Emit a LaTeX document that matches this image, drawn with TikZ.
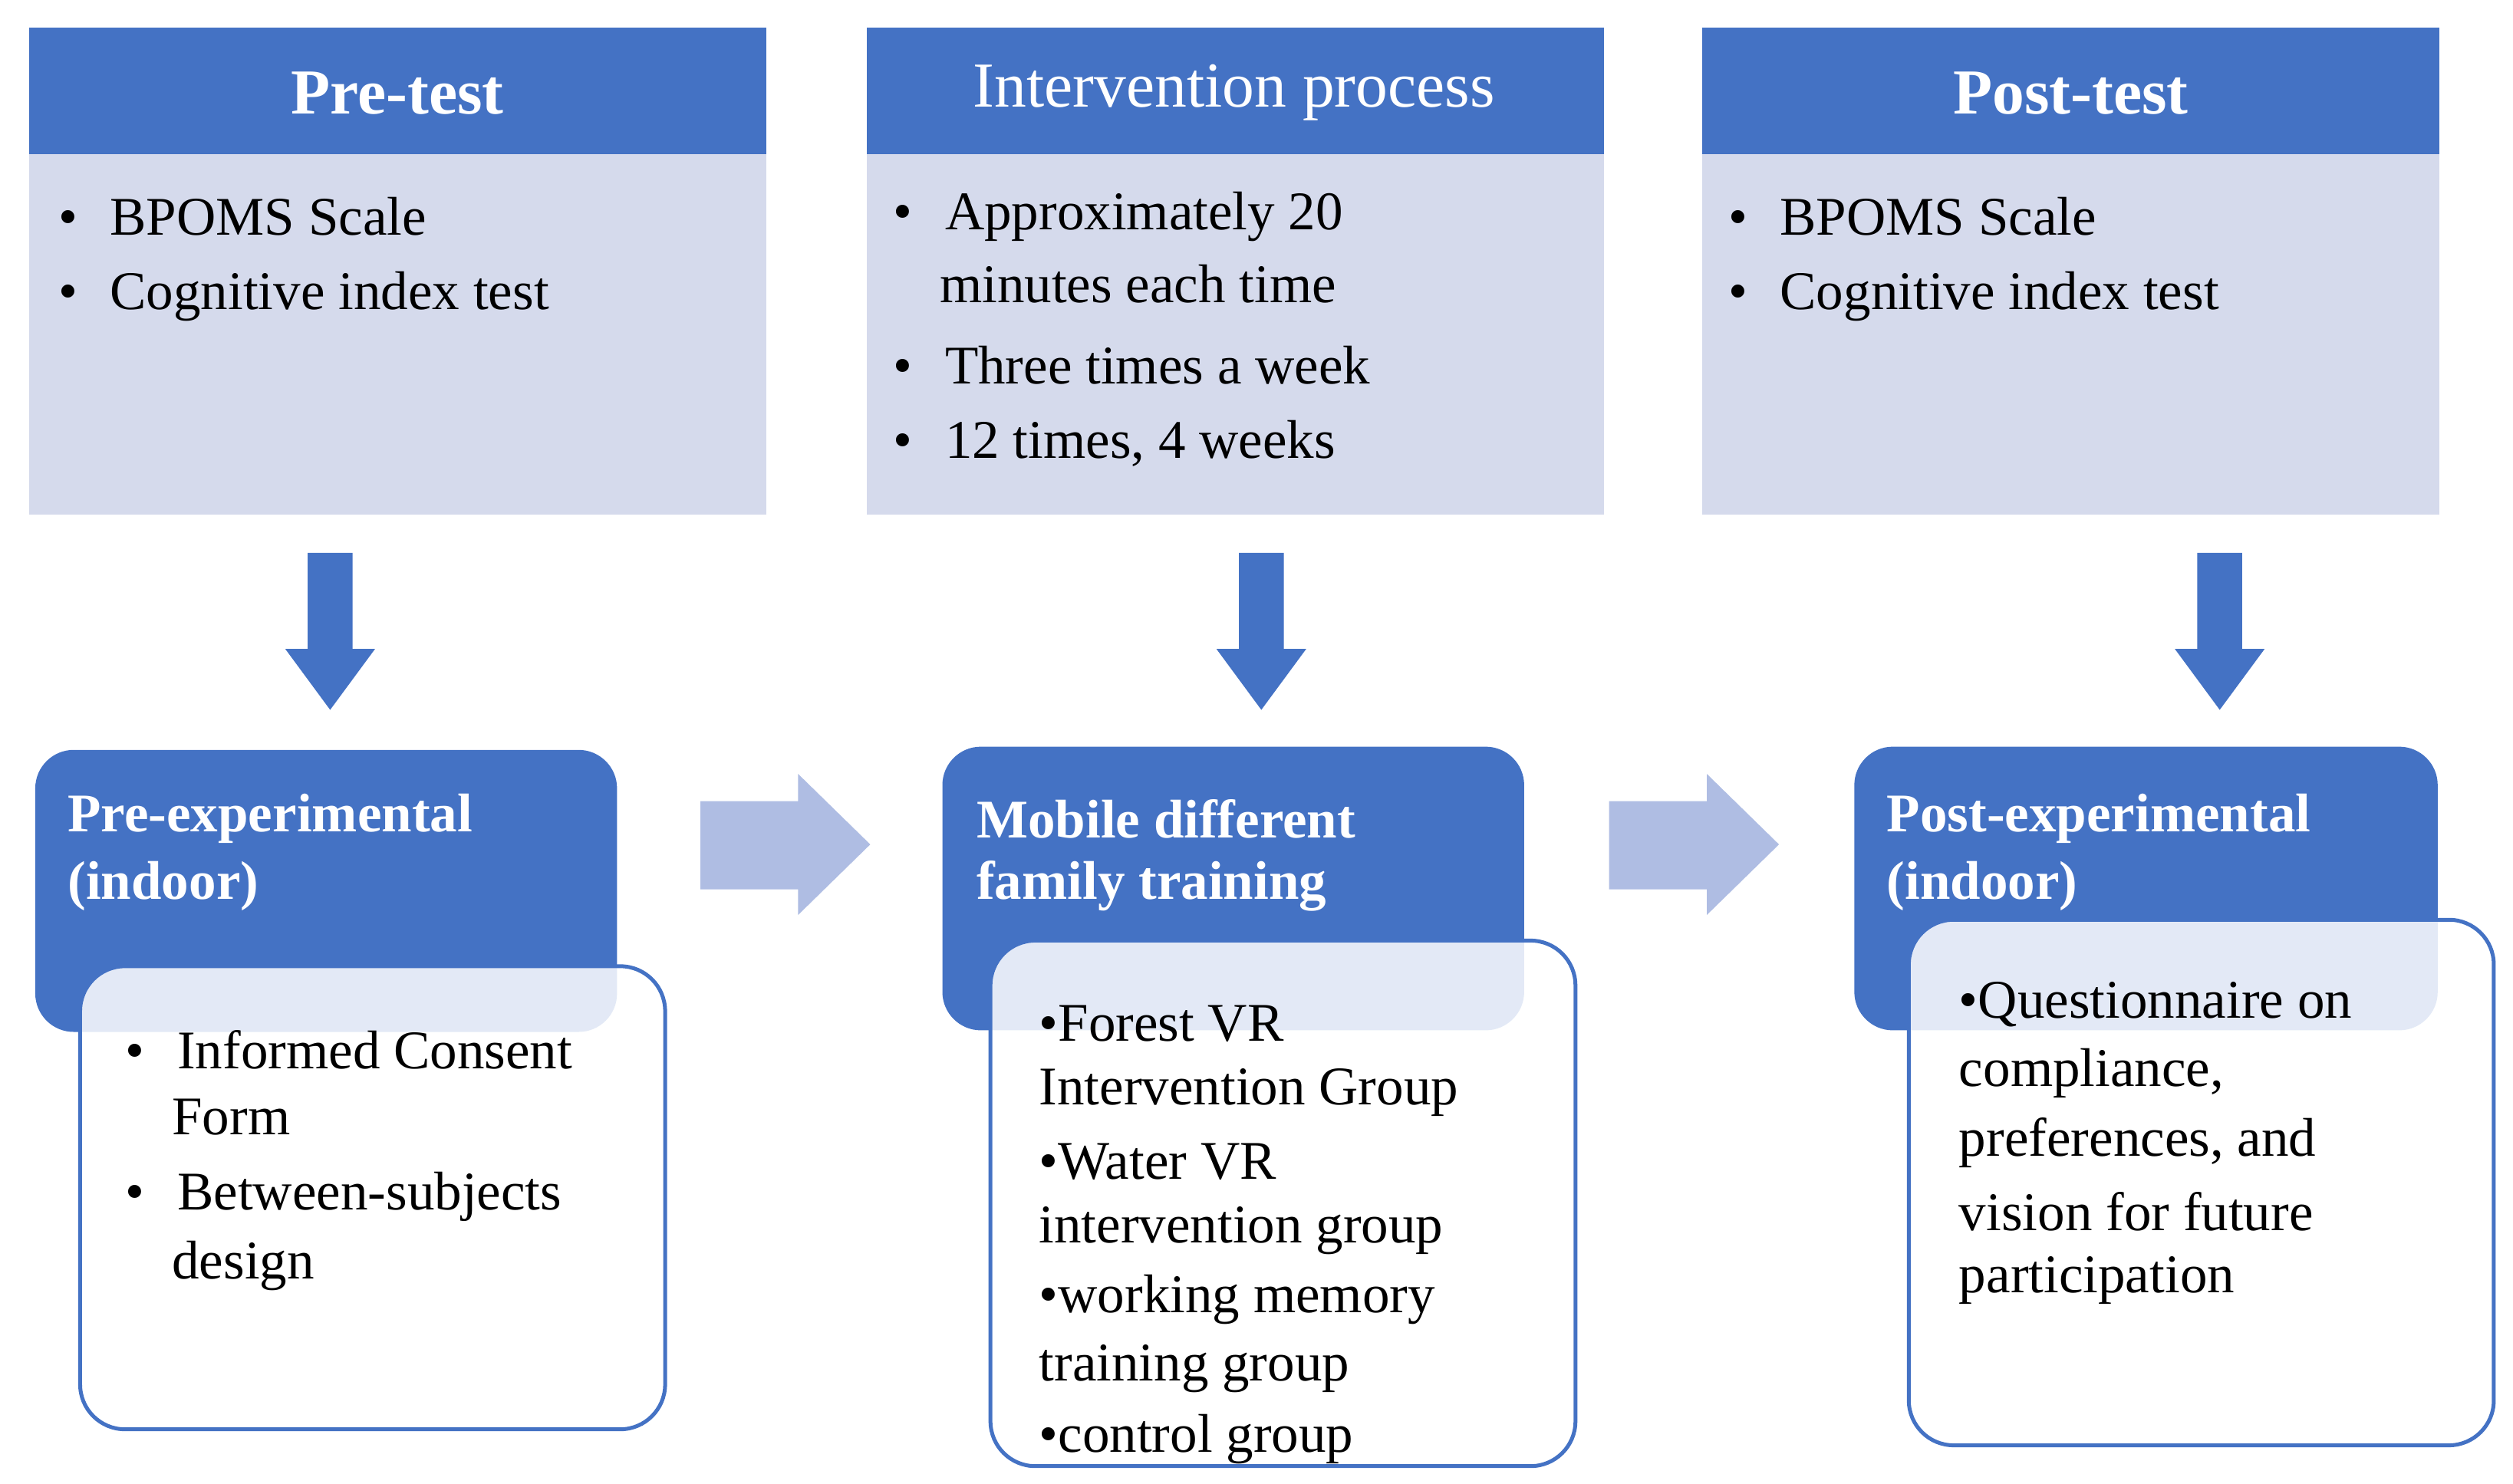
\documentclass[tikz,border=0pt]{standalone}
\usepackage{fontspec}
\setmainfont{Liberation Serif}
\definecolor{dblue}{HTML}{4472C4}
\definecolor{lblue}{HTML}{D5DAEC}
\definecolor{ablue}{HTML}{AFBDE3}
\begin{document}
\begin{tikzpicture}[x=0.5pt,y=-0.5pt,
  hdr/.style={font=\fontsize{20}{24}\selectfont,text=white},
  txt/.style={font=\fontsize{17}{21}\selectfont,anchor=west,inner sep=0},
  btxt/.style={font=\fontsize{17}{21}\selectfont\bfseries,anchor=west,inner sep=0,text=white},
  darr/.style={fill=dblue},
  rarr/.style={fill=ablue},
  wbox/.style={draw=dblue,line width=1.2pt,rounded corners=14pt,fill=white,fill opacity=0.85}]
\useasboundingbox (0,0) rectangle (1568,926);
% top boxes
\foreach \x/\n in {18/a,541/b,1062/c}{
  \fill[lblue] (\x,96) rectangle ++(460,225);
  \fill[dblue] (\x,17) rectangle ++(460,79);
}
\node[hdr,font=\fontsize{20}{24}\selectfont\bfseries] (h1) at (248,58) {Pre-test};
\node[hdr] (h2) at (770,58) {Intervention process};
\node[hdr,font=\fontsize{20}{24}\selectfont\bfseries] (h3) at (1292,58) {Post-test};
\node[txt] (t1) at (36,135) {•\hspace{0.6em}BPOMS Scale};
\node[txt] (t2) at (36,185) {•\hspace{0.6em}Cognitive index test};
\node[txt] (t3) at (557,135) {•\hspace{0.6em}Approximately 20};
\node[txt] (t4) at (586,177) {minutes each time};
\node[txt] (t5) at (557,228) {•\hspace{0.6em}Three times a week};
\node[txt] (t6) at (557,277) {•\hspace{0.6em}12 times, 4 weeks};
\node[txt] (t7) at (1078,135) {•\hspace{0.6em}BPOMS Scale};
\node[txt] (t8) at (1078,185) {•\hspace{0.6em}Cognitive index test};
% down arrows
\foreach \c in {206,787,1385}{
  \fill[darr] (\c-14,345) -- (\c+14,345) -- (\c+14,405) -- (\c+28,405) -- (\c,443) -- (\c-28,405) -- (\c-14,405) -- cycle;
}
% right arrows
\foreach \s in {437,1004}{
  \fill[rarr] (\s,500) -- (\s+61,500) -- (\s+61,483) -- (\s+106,527) -- (\s+61,571) -- (\s+61,555) -- (\s,555) -- cycle;
}
% dark bottom boxes
\fill[dblue,rounded corners=12pt] (22,468) rectangle (385,644);
\fill[dblue,rounded corners=12pt] (588,466) rectangle (951,643);
\fill[dblue,rounded corners=12pt] (1157,466) rectangle (1521,643);
\node[btxt] (p1) at (42,511) {Pre-experimental};
\node[btxt] (p2) at (42,553) {(indoor)};
\node[btxt] (m1) at (609,511) {Mobile different};
\node[btxt] (m2) at (609,553) {family training};
\node[btxt] (q1) at (1177,511) {Post-experimental};
\node[btxt] (q2) at (1177,553) {(indoor)};
% white boxes
\draw[wbox] (50,603) rectangle (415,892);
\draw[wbox] (618,587) rectangle (983,915);
\draw[wbox] (1191,574) rectangle (1556,902);
\node[txt] (w1) at (78,655) {•\hspace{0.6em}Informed Consent};
\node[txt] (w2) at (107,697) {Form};
\node[txt] (w3) at (78,747) {•\hspace{0.6em}Between-subjects};
\node[txt] (w4) at (107,790) {design};
\node[txt] (v1) at (648,639) {•Forest VR};
\node[txt] (v2) at (648,682) {Intervention Group};
\node[txt] (v3) at (648,725) {•Water VR};
\node[txt] (v4) at (648,768) {intervention group};
\node[txt] (v5) at (648,811) {•working memory};
\node[txt] (v6) at (648,854) {training group};
\node[txt] (v7) at (648,898) {•control group};
\node[txt] (u1) at (1222,627) {•Questionnaire on};
\node[txt] (u2) at (1222,670) {compliance,};
\node[txt] (u3) at (1222,713) {preferences, and};
\node[txt] (u4) at (1222,756) {vision for future};
\node[txt] (u5) at (1222,799) {participation};
\end{tikzpicture}
\end{document}
